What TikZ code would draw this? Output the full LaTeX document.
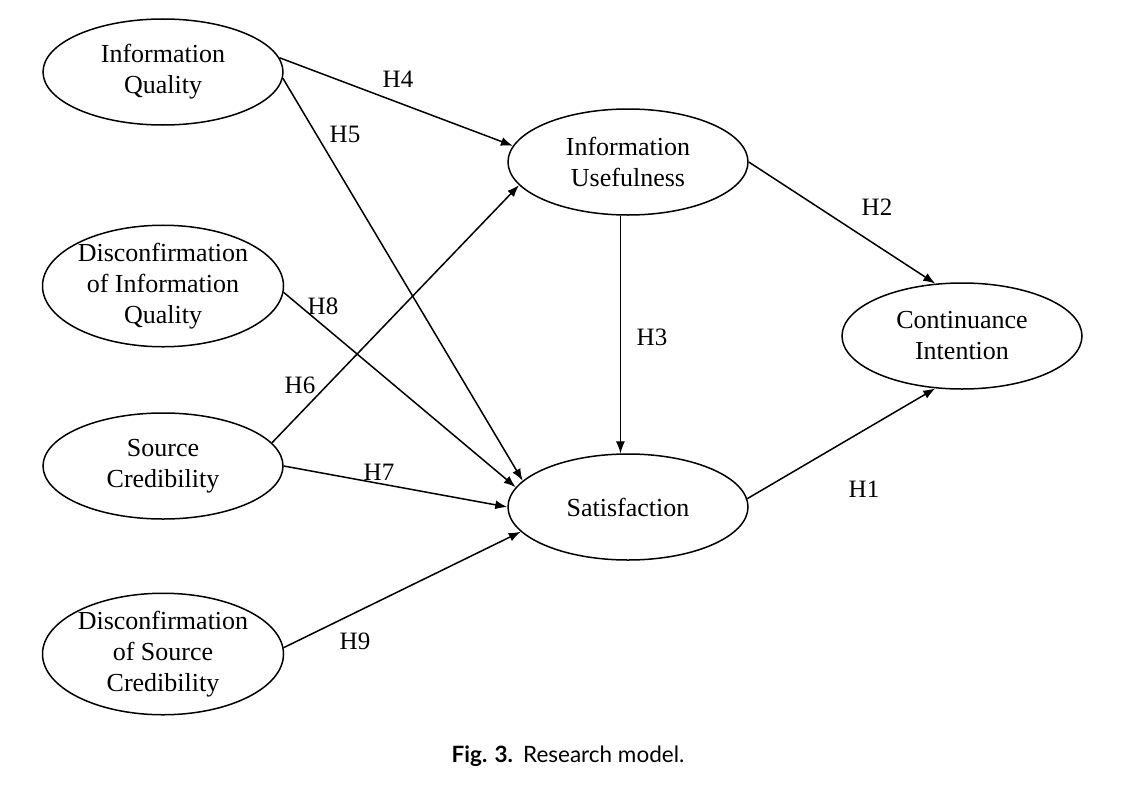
\documentclass[tikz,border=0pt]{standalone}
\usepackage{fontspec}
\setmainfont{Liberation Serif}
\newfontfamily\capfont{Lato}
\usetikzlibrary{arrows.meta,positioning,shapes.geometric}

\begin{document}
\begin{tikzpicture}
	[x=1pt,y=-1pt,line width=1.5pt,>={Latex[length=12pt,width=9pt]},
	every node/.style={font=\fontsize{26}{31}\selectfont},
	construct/.style={ellipse,draw=black,minimum width=240pt,minimum height=106pt,inner sep=0pt,align=center},
	hyp/.style={font=\fontsize{25}{30}\selectfont,inner sep=0pt}]
	\useasboundingbox (0,0) rectangle (1148,808);
	\node[construct] (iq)  at (163,72)  {Information\\Quality};
	\node[construct] (diq) at (163,286) {Disconfirmation\\of Information\\Quality};
	\node[construct] (sc)  at (163,466) {Source\\Credibility};
	\node[construct] (dsc) at (163,654) {Disconfirmation\\of Source\\Credibility};
	\node[construct] (iu)  at (628,162) {Information\\Usefulness};
	\node[construct] (sat) at (628,507) {Satisfaction};
	\node[construct] (ci)  at (962,336) {Continuance\\Intention};
	
	\foreach \from/\to in {iq.7/iu.172,iq.-3/sat.166,diq.-3/sat.170,sc.12/iu.192,sc.0/sat.180,dsc.3/sat.193,iu.0/ci.117,sat.4/ci.243}
	\draw[->] (\from) -- (\to);
	\draw[->,line width=1.1pt] (iu.-98) -- (sat.98);
	
	\foreach \lab/\x/\y in {1/864/489,2/877/207,3/652/337,4/398/79,5/345/134,6/300/385,7/379/472,8/323/306,9/355/641}
	\node[hyp] (h\lab) at (\x,\y) {H\lab};
	
	\node[font=\capfont\fontsize{22.5}{26}\selectfont,anchor=base] (caption) at (568,762) {\textbf{Fig. 3.}\hspace{0.45em}Research model.};
	\end{tikzpicture}
\end{document}
